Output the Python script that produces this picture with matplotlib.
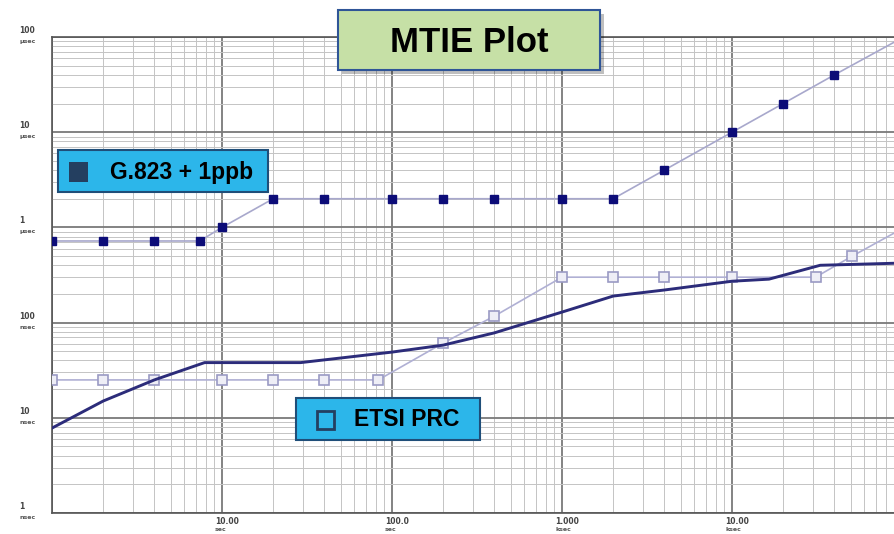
import matplotlib.pyplot as plt
from matplotlib.patches import Rectangle
from matplotlib.ticker import LogLocator, NullFormatter

# G.823 + 1ppb mask (seconds, microseconds)
g823_t = [1, 2, 4, 7.4, 10, 20, 40, 100, 200, 400, 1000, 2000, 4000, 10000, 20000, 40000, 89700]
g823_us = [0.72, 0.72, 0.72, 0.72, 1.0, 2, 2, 2, 2, 2, 2, 2, 4, 10, 20, 40, 88]

# ETSI PRC mask (seconds, nanoseconds)
etsi_t = [1, 2, 4, 10, 20, 40, 83, 200, 400, 1000, 2000, 4000, 10000, 31000, 51000, 89700]
etsi_ns = [25, 25, 25, 25, 25, 25, 25, 61, 117, 300, 300, 300, 300, 300, 500, 870]

# measured MTIE (seconds, nanoseconds)
meas_t = [1, 2, 4, 7.9, 29, 100, 200, 400, 1000, 2000, 4000, 10000, 16500, 33000, 89700]
meas_ns = [7.8, 15, 25, 38, 38, 49, 58, 78, 129, 190, 220, 272, 286, 400, 420]

y_ticks = [1, 10, 100, 1000, 10000, 100000]
y_nums = ['1', '10', '100', '1', '10', '100']
y_units = ['nsec', 'nsec', 'nsec', 'µsec', 'µsec', 'µsec']
x_ticks = [10, 100, 1000, 10000]
x_nums = ['10.00', '100.0', '1.000', '10.00']
x_units = ['sec', 'sec', 'ksec', 'ksec']

fig = plt.figure(figsize=(8.94, 5.34), dpi=100)
ax = fig.add_axes([52 / 894, 21 / 534, 842 / 894, 476 / 534])
ax.set_xscale('log')
ax.set_yscale('log')
ax.set_xlim(1, 89700)
ax.set_ylim(1, 100000)

ax.xaxis.set_minor_locator(LogLocator(base=10, subs=range(2, 10), numticks=20))
ax.yaxis.set_minor_locator(LogLocator(base=10, subs=range(2, 10), numticks=20))
ax.grid(which='major', color='#7a7a7a', lw=1.3)
ax.grid(which='minor', color='#c4c4c4', lw=0.7)
ax.set_axisbelow(True)
ax.tick_params(which='both', length=0, labelbottom=False, labelleft=False)
ax.xaxis.set_minor_formatter(NullFormatter())
ax.yaxis.set_minor_formatter(NullFormatter())
for s in ['top', 'left', 'bottom']:
    ax.spines[s].set_color('#555555')
    ax.spines[s].set_linewidth(1.2)
ax.spines['right'].set_visible(False)

# lines
g_ns = [v * 1000 for v in g823_us]
ax.plot(g823_t, g_ns, color='#a8a8cc', lw=1.2, zorder=3)
ax.plot(g823_t[:-1], g_ns[:-1], ls='none', marker='s', ms=6, color='#0c0c78', zorder=4)
ax.plot(etsi_t, etsi_ns, color='#b0b0d4', lw=1.2, zorder=3)
ax.plot(etsi_t[:-1], etsi_ns[:-1], ls='none', marker='s', ms=7.5, mfc='#eeeef6',
        mec='#9a9ac4', mew=1.2, zorder=4)
ax.plot(meas_t, meas_ns, color='#2c2c7a', lw=2.1, zorder=5)

# custom axis labels
for v, n, u in zip(y_ticks, y_nums, y_units):
    ax.annotate(n, (0, v), xycoords=('axes fraction', 'data'), xytext=(-33, 2),
                textcoords='offset pixels', fontsize=5.5, fontweight='bold',
                color='#444444', ha='left', va='bottom', annotation_clip=False)
    ax.annotate(u, (0, v), xycoords=('axes fraction', 'data'), xytext=(-33, -2),
                textcoords='offset pixels', fontsize=4.5, fontweight='bold',
                color='#555555', ha='left', va='top', annotation_clip=False)
for v, n, u in zip(x_ticks, x_nums, x_units):
    ax.annotate(n, (v, 0), xycoords=('data', 'axes fraction'), xytext=(-7, -4),
                textcoords='offset pixels', fontsize=5.5, fontweight='bold',
                color='#444444', ha='left', va='top', annotation_clip=False)
    ax.annotate(u, (v, 0), xycoords=('data', 'axes fraction'), xytext=(-7, -14),
                textcoords='offset pixels', fontsize=4.5, fontweight='bold',
                color='#555555', ha='left', va='top', annotation_clip=False)


def fig_box(x0, y0, x1, y1, fc, ec, shadow=False):
    # pixel coords, origin at top-left
    W, H = 894, 534
    if shadow:
        fig.patches.append(Rectangle(((x0 + 4) / W, 1 - (y1 + 4) / H), (x1 - x0) / W, (y1 - y0) / H,
                                     transform=fig.transFigure, fc='#00000040', ec='none', zorder=9))
    fig.patches.append(Rectangle((x0 / W, 1 - y1 / H), (x1 - x0) / W, (y1 - y0) / H,
                                 transform=fig.transFigure, fc=fc, ec=ec, lw=1.5, zorder=10))


# title box
fig_box(338, 10, 600, 70, '#c6e0a6', '#2f5597', shadow=True)
fig.text(469 / 894, 1 - 42 / 534, 'MTIE Plot', fontsize=25, fontweight='bold',
         family='Liberation Sans', ha='center', va='center', zorder=11)

# legend boxes
fig_box(58, 150, 268, 192, '#2cb6ea', '#1f4e79')
fig.patches.append(Rectangle((69 / 894, 1 - 182 / 534), 19 / 894, 20 / 534, transform=fig.transFigure,
                             fc='#243f60', ec='none', zorder=11))
fig.text(110 / 894, 1 - 172 / 534, 'G.823 + 1ppb', fontsize=16.5, fontweight='bold',
         family='Liberation Sans', ha='left', va='center', zorder=11)

fig_box(296, 398, 480, 440, '#2cb6ea', '#1f4e79')
fig.patches.append(Rectangle((317 / 894, 1 - 429 / 534), 17 / 894, 18 / 534, transform=fig.transFigure,
                             fc='none', ec='#243f60', lw=2, zorder=11))
fig.text(354 / 894, 1 - 419 / 534, 'ETSI PRC', fontsize=16.5, fontweight='bold',
         family='Liberation Sans', ha='left', va='center', zorder=11)

fig.savefig('out.png', dpi=100)
